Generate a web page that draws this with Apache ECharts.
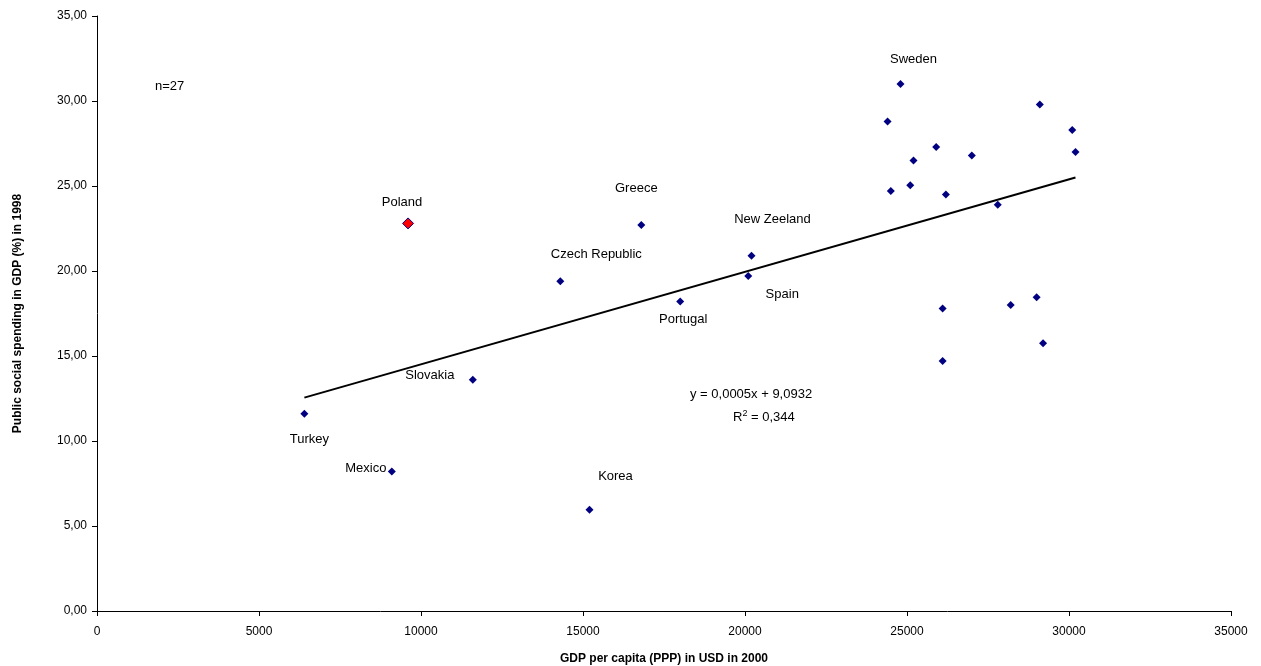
<!DOCTYPE html>
<html><head><meta charset="utf-8">
<script src="https://cdn.jsdelivr.net/npm/echarts@6/dist/echarts.min.js"></script>
<style>html,body{margin:0;padding:0;background:#fff}#chart{width:1261px;height:666px}</style>
</head><body><div id="chart"></div>
<script>
// countries: [name, gdp per capita, social spending %]
var countries = ['Turkey', 'Mexico', 'Poland', 'Slovakia', 'Czech Republic', 'Korea', 'Greece', 'Portugal', 'Spain', 'New Zeeland', 'Sweden',
    '', '', '', '', '', '', '', '', '', '', '', '', '', '', '', ''];
var gdp = [6400, 9100, 9600, 11600, 14300, 15200, 16800, 18000, 20100, 20200, 24800,
    24400, 24500, 25100, 25200, 25900, 26100, 26100, 26200, 27000, 27800, 28200, 29000, 29100, 29200, 30100, 30200];
var spending = [11.6, 8.2, 22.8, 13.6, 19.4, 5.95, 22.7, 18.2, 19.7, 20.9, 31.0,
    28.8, 24.7, 25.05, 26.5, 27.3, 17.8, 14.7, 24.5, 26.8, 23.9, 18.0, 18.45, 29.8, 15.75, 28.3, 27.0];
var trendX = [6400, 30200];
var trendY = [12.55, 25.5];
// label offsets (px)
var labelOffsets = {
    'Turkey': [5, 26], 'Mexico': [-26, -3], 'Poland': [-6, -21], 'Slovakia': [-43, -4],
    'Czech Republic': [36, -27], 'Korea': [26, -33], 'Greece': [-5, -37], 'Portugal': [3, 18],
    'Spain': [34, 18], 'New Zeeland': [21, -36], 'Sweden': [13, -25]
};

var pts = [];
for (var i = 0; i < gdp.length; i++) {
    var p = { value: [gdp[i], spending[i]], name: countries[i] };
    if (countries[i]) {
        p.label = { show: true, formatter: countries[i], position: 'inside', offset: labelOffsets[countries[i]],
            color: '#000', opacity: 1, textBorderWidth: 0, fontSize: 13, fontFamily: 'Liberation Sans, Arial', letterSpacing: 1 };
    }
    if (countries[i] === 'Poland') {
        p.symbolSize = 11;
        p.itemStyle = { color: '#ff0000', borderColor: '#000080', borderWidth: 1 };
    }
    pts.push(p);
}

var myChart = echarts.init(document.getElementById('chart'));
var comma = function (v) { return v.toFixed(2).replace('.', ','); };
var option = {
    animation: false,
    grid: { left: 97, right: 30, top: 16, bottom: 55, containLabel: false, outerBoundsMode: 'none' },
    xAxis: {
        type: 'value', min: 0, max: 35000, interval: 5000,
        name: 'GDP per capita (PPP) in USD in 2000', nameLocation: 'middle', nameGap: 42,
        nameTextStyle: { fontWeight: 'bold', fontSize: 12, color: '#000', fontFamily: 'Liberation Sans, Arial', letterSpacing: 1 },
        axisLine: { lineStyle: { color: '#000' } },
        axisTick: { show: true, lineStyle: { color: '#000' } },
        axisLabel: { color: '#000', fontSize: 12, fontFamily: 'Liberation Sans, Arial', margin: 15, formatter: function (v) { return String(v); } },
        splitLine: { show: false }
    },
    yAxis: {
        type: 'value', min: 0, max: 35, interval: 5,
        name: 'Public social spending in GDP (%) in 1998', nameLocation: 'middle', nameGap: 73, nameRotate: 90,
        nameTextStyle: { fontWeight: 'bold', fontSize: 12, color: '#000', fontFamily: 'Liberation Sans, Arial' },
        axisLine: { show: true, lineStyle: { color: '#000' } },
        axisTick: { show: true, lineStyle: { color: '#000' } },
        axisLabel: { color: '#000', fontSize: 12, fontFamily: 'Liberation Sans, Arial', margin: 10, formatter: comma },
        splitLine: { show: false }
    },
    series: [{
        type: 'scatter', symbol: 'diamond', symbolSize: 8,
        itemStyle: { color: '#000080', opacity: 1 },
        data: pts, z: 3
    }, {
        type: 'line', symbol: 'none', silent: true,
        lineStyle: { color: '#000', width: 2 },
        data: [[trendX[0], trendY[0]], [trendX[1], trendY[1]]]
    }],
    graphic: [{
        type: 'text', left: 155, top: 80,
        style: { text: 'n=27', fill: '#000', font: '13px Liberation Sans, Arial' }
    }, {
        type: 'text', left: 690, top: 388,
        style: { text: 'y = 0,0005x + 9,0932', font: '13px Liberation Sans, Arial', fill: '#000' }
    }, {
        type: 'text', left: 733, top: 409,
        style: { text: 'R{s|2} = 0,344', font: '13px Liberation Sans, Arial', fill: '#000',
            rich: { s: { fontSize: 9, verticalAlign: 'top', padding: [0, 0, 8, 0] } } }
    }]
};
myChart.setOption(option);
</script>
</body></html>
